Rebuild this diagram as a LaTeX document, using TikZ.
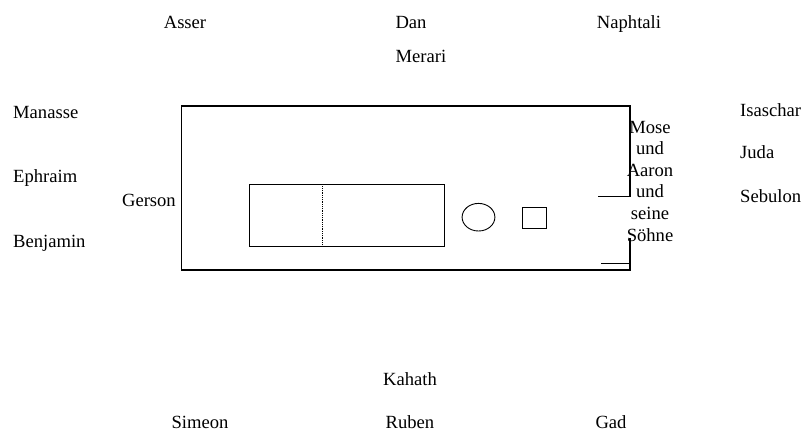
\documentclass[tikz,border=0pt]{standalone}
\usepackage{fontspec}
\setmainfont{Liberation Serif}
\usetikzlibrary{shapes.geometric}
\begin{document}
\begin{tikzpicture}[x=1pt,y=-1pt,
  lbl/.style={inner sep=0pt,font=\fontsize{18.6}{21.6}\selectfont},
  wall/.style={line width=1.2pt},
  shp/.style={draw,line width=0.9pt,inner sep=0pt}]
\useasboundingbox (0,0) rectangle (803,432);
% labels top
\node[lbl,anchor=base] (asser) at (185,28) {Asser};
\node[lbl,anchor=base] (dan) at (411,28) {Dan};
\node[lbl,anchor=base] (naph) at (629,28) {Naphtali};
\node[lbl,anchor=base] (merari) at (421,62) {Merari};
% left
\node[lbl,anchor=base west] (manasse) at (13,118.6) {Manasse};
\node[lbl,anchor=base west] (ephraim) at (13,182) {Ephraim};
\node[lbl,anchor=base west] (benjamin) at (13,247.6) {Benjamin};
\node[lbl,anchor=base east] (gerson) at (176,206) {Gerson};
% right
\node[lbl,anchor=base west] (isaschar) at (740,116.6) {Isaschar};
\node[lbl,anchor=base west] (juda) at (740,158.8) {Juda};
\node[lbl,anchor=base west] (sebulon) at (740,202.7) {Sebulon};
% bottom
\node[lbl,anchor=base] (kahath) at (410,385) {Kahath};
\node[lbl,anchor=base] (simeon) at (200,428.5) {Simeon};
\node[lbl,anchor=base] (ruben) at (410,428.5) {Ruben};
\node[lbl,anchor=base] (gad) at (611,428.5) {Gad};
% Mose und Aaron (base anchor = baseline of last line)
\node[lbl,anchor=base,align=center] (mose) at (650,241) {Mose\\und\\Aaron\\und\\seine\\Söhne};
% outer court
\coordinate (ua) at (598.4,196.4);
\coordinate (ub) at (630,196.4);
\coordinate (tr) at (630,106);
\coordinate (tl) at (181.5,106);
\coordinate (bl) at (181.5,270);
\coordinate (br) at (630,270);
\coordinate (lb) at (630,238);
\coordinate (la) at (601,263.2);
\coordinate (lc) at (630,263.2);
\draw[wall] (ua) -- (ub) -- (tr) -- (tl) -- (bl) -- (br) -- (lb);
\draw[wall] (la) -- (lc);
% tabernacle
\node[shp,rectangle,minimum width=194.4pt,minimum height=61.8pt] (tab) at (346.9,215.3) {};
\coordinate (dt) at (322,184.4);
\coordinate (db) at (322,246.2);
\draw[densely dotted,line width=0.8pt] (dt) -- (db);
% laver and altar
\node[shp,ellipse,minimum width=32.8pt,minimum height=27.6pt] (laver) at (478.5,217.2) {};
\node[shp,rectangle,minimum width=24.6pt,minimum height=21pt] (altar) at (534.3,217.5) {};
\end{tikzpicture}
\end{document}
